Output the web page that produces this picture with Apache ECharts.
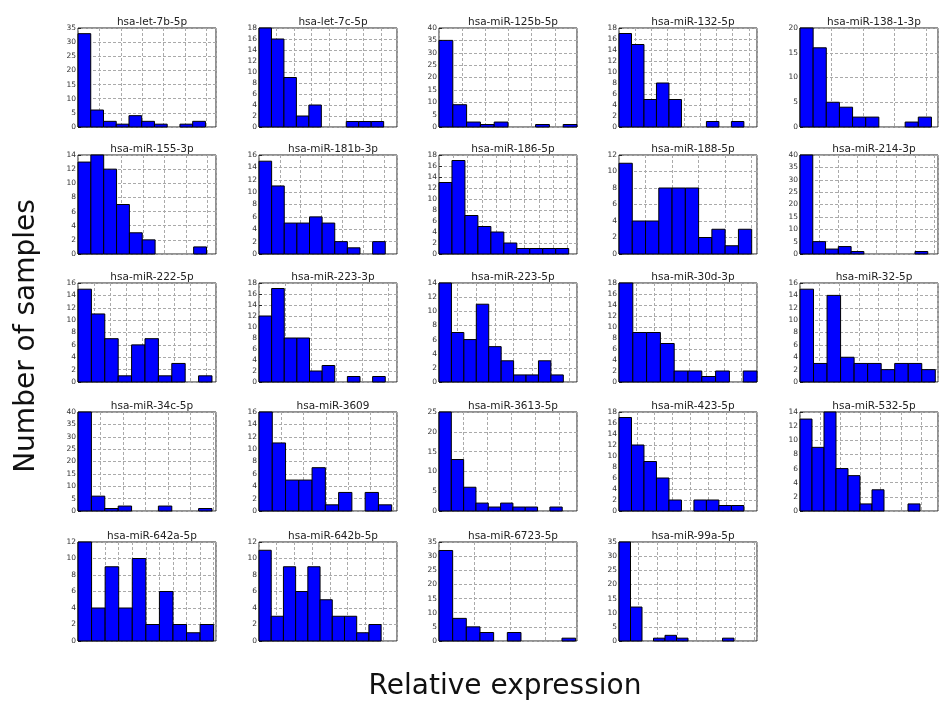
<!DOCTYPE html>
<html>
<head>
<meta charset="utf-8">
<script src="https://cdn.jsdelivr.net/npm/echarts@6/dist/echarts.min.js"></script>
<style>
  html, body { margin: 0; padding: 0; background: #fff; }
  #chart { width: 939px; height: 705px; }
</style>
</head>
<body>
<div id="chart"></div>
<script>
// Histogram panel titles (one per miRNA)
const titles = [
  'hsa-let-7b-5p', 'hsa-let-7c-5p', 'hsa-miR-125b-5p', 'hsa-miR-132-5p', 'hsa-miR-138-1-3p',
  'hsa-miR-155-3p', 'hsa-miR-181b-3p', 'hsa-miR-186-5p', 'hsa-miR-188-5p', 'hsa-miR-214-3p',
  'hsa-miR-222-5p', 'hsa-miR-223-3p', 'hsa-miR-223-5p', 'hsa-miR-30d-3p', 'hsa-miR-32-5p',
  'hsa-miR-34c-5p', 'hsa-miR-3609', 'hsa-miR-3613-5p', 'hsa-miR-423-5p', 'hsa-miR-532-5p',
  'hsa-miR-642a-5p', 'hsa-miR-642b-5p', 'hsa-miR-6723-5p', 'hsa-miR-99a-5p'
];

// Number of samples in each of the 10 expression bins
const counts = [
  [33, 6, 2, 1, 4, 2, 1, 0, 1, 2],
  [18, 16, 9, 2, 4, 0, 0, 1, 1, 1],
  [35, 9, 2, 1, 2, 0, 0, 1, 0, 1],
  [17, 15, 5, 8, 5, 0, 0, 1, 0, 1],
  [20, 16, 5, 4, 2, 2, 0, 0, 1, 2],
  [13, 14, 12, 7, 3, 2, 0, 0, 0, 1],
  [15, 11, 5, 5, 6, 5, 2, 1, 0, 2],
  [13, 17, 7, 5, 4, 2, 1, 1, 1, 1],
  [11, 4, 4, 8, 8, 8, 2, 3, 1, 3],
  [40, 5, 2, 3, 1, 0, 0, 0, 0, 1],
  [15, 11, 7, 1, 6, 7, 1, 3, 0, 1],
  [12, 17, 8, 8, 2, 3, 0, 1, 0, 1],
  [14, 7, 6, 11, 5, 3, 1, 1, 3, 1],
  [18, 9, 9, 7, 2, 2, 1, 2, 0, 2],
  [15, 3, 14, 4, 3, 3, 2, 3, 3, 2],
  [40, 6, 1, 2, 0, 0, 2, 0, 0, 1],
  [16, 11, 5, 5, 7, 1, 3, 0, 3, 1],
  [25, 13, 6, 2, 1, 2, 1, 1, 0, 1],
  [17, 12, 9, 6, 2, 0, 2, 2, 1, 1],
  [13, 9, 14, 6, 5, 1, 3, 0, 0, 1],
  [12, 4, 9, 4, 10, 2, 6, 2, 1, 2],
  [11, 3, 9, 6, 9, 5, 3, 3, 1, 2],
  [32, 8, 5, 3, 0, 3, 0, 0, 0, 1],
  [35, 12, 0, 1, 2, 1, 0, 0, 0, 1]
];

// y-axis upper limit and tick step for each panel
const yMax = [35, 18, 40, 18, 20, 14, 16, 18, 12, 40, 16, 18, 14, 18, 16, 40, 16, 25, 18, 14, 12, 12, 35, 35];
const yStep = [5, 2, 5, 2, 5, 2, 2, 2, 2, 5, 2, 2, 2, 2, 2, 5, 2, 5, 2, 2, 2, 2, 5, 5];

// x-axis extent (in bin widths) and vertical grid spacing per panel
const xSpan = [10.83, 11.07, 10, 11.05, 10.5, 10.74, 10.93, 10.64, 10.4, 10.8,
               10.3, 10.93, 11.1, 10, 10.2, 10.3, 10.4, 11.2, 11.05, 11.5,
               10.17, 11.3, 10.1, 12];
const xGrid = [1.68, 1.4, 1.68, 1.3, 2.4, 1.68, 1.65, 1.1, 2, 1.5,
               1.2, 2.05, 1.5, 1.27, 1.45, 1.68, 1.68, 1.95, 1.43, 1.68,
               1.0, 1.45, 2.6, 1.68];

const FONT = 'DejaVu Sans';
const colLeft = [78, 259, 439, 619, 800];
const rowTop = [28, 155, 283, 412, 542];
const plotW = 138, plotH = 99;

const grid = [], xAxis = [], yAxis = [], series = [], title = [];
const gridLine = { show: true, lineStyle: { color: '#aaa', type: [3, 2], width: 1 } };

titles.forEach((name, i) => {
  const r = Math.floor(i / 5), c = i % 5;
  const left = colLeft[c], top = rowTop[r];
  grid.push({
    left: left, top: top, width: plotW, height: plotH,
    show: true, borderColor: '#222', borderWidth: 1, backgroundColor: '#fff'
  });
  title.push({
    text: name, left: left + plotW / 2, top: top - 16, textAlign: 'center',
    textStyle: { fontFamily: FONT, fontSize: 10.5, fontWeight: 'normal', color: '#222' }
  });
  xAxis.push({
    type: 'value', gridIndex: i, min: 0, max: xSpan[i], interval: xGrid[i],
    axisLine: { show: false }, axisLabel: { show: false },
    axisTick: { show: false }, splitLine: gridLine
  });
  yAxis.push({
    type: 'value', gridIndex: i, min: 0, max: yMax[i], interval: yStep[i],
    axisLine: { show: false },
    axisTick: { show: true, inside: true, length: 3, lineStyle: { color: '#222' } },
    axisLabel: { fontFamily: FONT, fontSize: 7.5, color: '#333', margin: 2 },
    splitLine: gridLine
  });
  series.push({
    type: 'custom', xAxisIndex: i, yAxisIndex: i,
    data: counts[i].map((v, k) => [k, k + 1, v]),
    renderItem: (params, api) => {
      const h = api.value(2);
      if (h <= 0) return null;
      const p0 = api.coord([api.value(0), 0]);
      const p1 = api.coord([api.value(1), h]);
      return {
        type: 'rect',
        shape: { x: p0[0], y: p1[1], width: p1[0] - p0[0], height: p0[1] - p1[1] },
        style: { fill: '#0000ff', stroke: '#000', lineWidth: 1 }
      };
    }
  });
});

const chart = echarts.init(document.getElementById('chart'), null, { renderer: 'canvas' });
chart.setOption({
  animation: false,
  backgroundColor: '#fff',
  title: title,
  grid: grid,
  xAxis: xAxis,
  yAxis: yAxis,
  series: series,
  graphic: [
    {
      type: 'text', x: 505, y: 687,
      style: { text: 'Relative expression', font: '28px "DejaVu Sans"', fill: '#111',
               textAlign: 'center', textVerticalAlign: 'middle' }
    },
    {
      type: 'text', x: 27, y: 336, rotation: Math.PI / 2,
      style: { text: 'Number of samples', font: '28px "DejaVu Sans"', fill: '#111',
               textAlign: 'center', textVerticalAlign: 'middle' }
    }
  ]
});
</script>
</body>
</html>
